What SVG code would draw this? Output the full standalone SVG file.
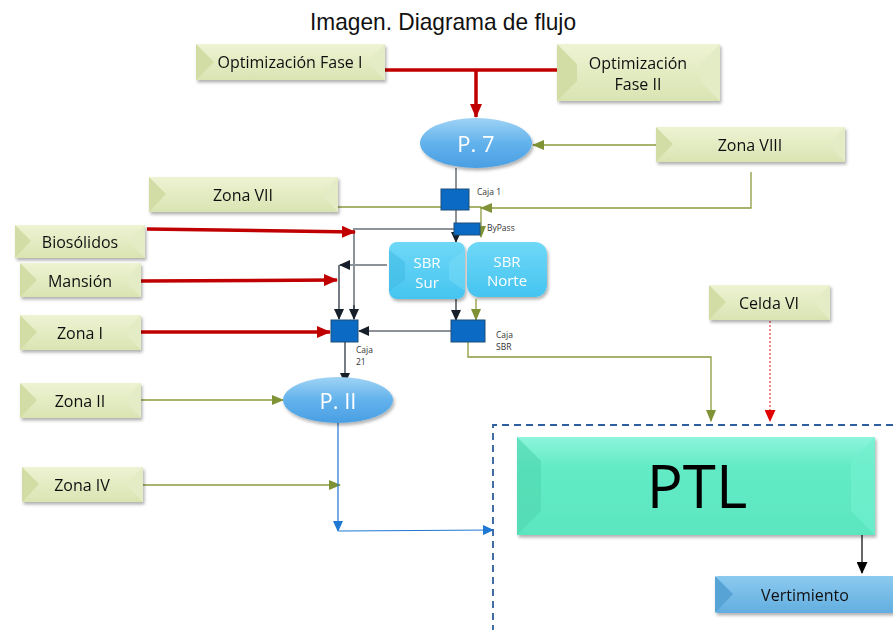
<svg xmlns="http://www.w3.org/2000/svg" width="893" height="630" viewBox="0 0 893 630">
<defs>
<style>
.lbl{font-family:"Open Sans","Noto Sans","Liberation Sans",sans-serif;font-size:16px;fill:#111;text-anchor:middle;dominant-baseline:central}
.wlbl{font-family:"Open Sans","Noto Sans","Liberation Sans",sans-serif;fill:#fff;text-anchor:middle;dominant-baseline:central}
.small{font-family:"Open Sans","Noto Sans","Liberation Sans",sans-serif;font-size:8.5px;fill:#333}
.gface{fill:url(#gGreen)}
.gl{fill:#d2dda6}.gt{fill:#f3f7e2}.gr{fill:#e4ecc6}.gb{fill:#c9d49c}
.red{stroke:#c00000;stroke-width:3.5;fill:none}
.olive{stroke:#8a9b3c;stroke-width:1.3;fill:none}
.gray{stroke:#8c9399;stroke-width:2;fill:none}
.dark{stroke:#1b2631;stroke-width:1.2;fill:none}
.blue{stroke:#1f78d1;stroke-width:1.2;fill:none}
.caja{fill:#0b6bc4;stroke:#1f4e79;stroke-width:1}
</style>
<linearGradient id="gGreen" x1="0" y1="0" x2="0" y2="1"><stop offset="0" stop-color="#eef3d3"/><stop offset="1" stop-color="#d9e4b2"/></linearGradient>
<linearGradient id="gEll" x1="0" y1="0" x2="0" y2="1"><stop offset="0" stop-color="#9fd3f5"/><stop offset="0.5" stop-color="#62b2ec"/><stop offset="1" stop-color="#4a9fe3"/></linearGradient>
<linearGradient id="gSbr" x1="0" y1="0" x2="0" y2="1"><stop offset="0" stop-color="#6fd8f7"/><stop offset="1" stop-color="#45c4f0"/></linearGradient>
<linearGradient id="gPtl" x1="0" y1="0" x2="0" y2="1"><stop offset="0" stop-color="#8ef5dc"/><stop offset="0.3" stop-color="#63ebc6"/><stop offset="1" stop-color="#5be6c0"/></linearGradient>
<linearGradient id="gVert" x1="0" y1="0" x2="0" y2="1"><stop offset="0" stop-color="#8ccaef"/><stop offset="1" stop-color="#62aee0"/></linearGradient>
<filter id="sh" x="-10%" y="-20%" width="130%" height="150%"><feDropShadow dx="1.5" dy="2.5" stdDeviation="1.5" flood-color="#000" flood-opacity="0.3"/></filter>
<marker id="mRed" markerUnits="userSpaceOnUse" markerWidth="14" markerHeight="12" refX="13" refY="6" orient="auto"><path d="M0,0 L14,6 L0,12 Z" fill="#c00000"/></marker>
<marker id="mOlive" markerUnits="userSpaceOnUse" markerWidth="12" markerHeight="10" refX="11" refY="5" orient="auto"><path d="M0,0 L12,5 L0,10 Z" fill="#7f9235"/></marker>
<marker id="mDark" markerUnits="userSpaceOnUse" markerWidth="11" markerHeight="10" refX="10" refY="5" orient="auto"><path d="M0,0 L11,5 L0,10 Z" fill="#17202a"/></marker>
<marker id="mBlue" markerUnits="userSpaceOnUse" markerWidth="11" markerHeight="10" refX="10" refY="5" orient="auto"><path d="M0,0 L11,5 L0,10 Z" fill="#1f78d1"/></marker>
<marker id="mBlack" markerUnits="userSpaceOnUse" markerWidth="12" markerHeight="11" refX="11" refY="5.5" orient="auto"><path d="M0,0 L12,5.5 L0,11 Z" fill="#000"/></marker>
<marker id="mRedS" markerUnits="userSpaceOnUse" markerWidth="12" markerHeight="11" refX="11" refY="5.5" orient="auto"><path d="M0,0 L12,5.5 L0,11 Z" fill="#e00000"/></marker>
</defs>
<rect width="893" height="630" fill="#fff"/>
<text x="443" y="30" font-family="Liberation Sans Narrow,Liberation Sans,sans-serif" font-size="24" fill="#111" text-anchor="middle" textLength="266" lengthAdjust="spacingAndGlyphs">Imagen. Diagrama de flujo</text>

<g id="connectors">
<path class="red" d="M385,70 H557"/>
<path class="red" d="M476,70 V117" marker-end="url(#mRed)"/>
<path class="olive" d="M656,145 H533" marker-end="url(#mOlive)"/>
<path class="olive" d="M751,172 V208 H481" marker-end="url(#mOlive)"/>
<path class="olive" d="M338,207 H481 V237" marker-end="url(#mOlive)"/>
<path class="gray" d="M456,168 V189"/>
<path class="gray" d="M456,210 V223"/>
<path class="dark" d="M456,235 V242" marker-end="url(#mDark)"/>
<path class="gray" d="M455,229 H354 V319"/>
<path class="dark" d="M354,305 V319" marker-end="url(#mDark)"/>
<path class="gray" d="M387,265 H341"/>
<path class="dark" d="M350,265 H340" marker-end="url(#mDark)"/>
<path class="dark" d="M339,265 V319" marker-end="url(#mDark)"/>
<path class="red" d="M147,229 L355,232" marker-end="url(#mRed)"/>
<path class="red" d="M141,281 L337,280" marker-end="url(#mRed)"/>
<path class="red" d="M141,332 H330" marker-end="url(#mRed)"/>
<path class="dark" d="M456,299 V320" marker-end="url(#mDark)"/>
<path class="olive" d="M476,299 V320" marker-end="url(#mOlive)"/>
<path class="dark" d="M451,331 H359" marker-end="url(#mDark)"/>
<path class="dark" d="M345,342 V383" marker-end="url(#mDark)"/>
<path class="olive" d="M468,342 V357 H711 V421" marker-end="url(#mOlive)"/>
<path d="M770,321 V421" stroke="#e33" stroke-width="1.2" stroke-dasharray="2,2" fill="none" marker-end="url(#mRedS)"/>
<path class="olive" d="M141,400 H283" marker-end="url(#mOlive)"/>
<path class="olive" d="M143,485 H340" marker-end="url(#mOlive)"/>
<path class="blue" d="M338,423 V531" marker-end="url(#mBlue)"/>
<path class="blue" d="M339,531 L493,530" marker-end="url(#mBlue)"/>
<path d="M862,535 V573" stroke="#000" stroke-width="1.2" fill="none" marker-end="url(#mBlack)"/>
<path d="M893,425 H493 V630" stroke="#2e5f9e" stroke-width="1.8" stroke-dasharray="7,5" fill="none"/>
</g>

<g id="opt1" filter="url(#sh)">
<rect x="196" y="44" width="189" height="36" class="gface"/>
<polygon class="gl" points="196,44 214,62 196,80"/><polygon class="gr" points="385,44 367,62 385,80"/>
<text class="lbl" x="290" y="62">Optimización Fase I</text>
</g>
<g id="opt2" filter="url(#sh)">
<rect x="557" y="44" width="163" height="57" class="gface"/>
<polygon class="gl" points="557,44 577,64 577,81 557,101"/><polygon class="gr" points="720,44 700,64 700,81 720,101"/>
<text class="lbl" x="638" y="63">Optimización</text><text class="lbl" x="638" y="84">Fase II</text>
</g>
<g id="p7" filter="url(#sh)">
<ellipse cx="476" cy="143" rx="56" ry="25" fill="url(#gEll)"/>
<text class="wlbl" x="476" y="143" font-size="22">P. 7</text>
</g>
<g id="zona8" filter="url(#sh)">
<rect x="656" y="127" width="189" height="35" class="gface"/>
<polygon class="gl" points="656,127 673,144 656,162"/><polygon class="gr" points="845,127 828,144 845,162"/>
<text class="lbl" x="750" y="145">Zona VIII</text>
</g>
<g id="zona7" filter="url(#sh)">
<rect x="149" y="177" width="189" height="35" class="gface"/>
<polygon class="gl" points="149,177 166,194 149,212"/><polygon class="gr" points="338,177 321,194 338,212"/>
<text class="lbl" x="243" y="195">Zona VII</text>
</g>
<g id="caja1">
<rect x="441" y="189" width="28" height="21" class="caja"/>
<text class="small" x="477" y="195">Caja 1</text>
</g>
<g id="bypass">
<rect x="454" y="223" width="26" height="12" class="caja"/>
<text class="small" x="487" y="231">ByPass</text>
</g>
<g id="biosolidos" filter="url(#sh)">
<rect x="15" y="225" width="130" height="33" class="gface"/>
<polygon class="gl" points="15,225 31,241 15,258"/><polygon class="gr" points="145,225 129,241 145,258"/>
<text class="lbl" x="80" y="242">Biosólidos</text>
</g>
<g id="mansion" filter="url(#sh)">
<rect x="20" y="263" width="121" height="34" class="gface"/>
<polygon class="gl" points="20,263 37,280 20,297"/><polygon class="gr" points="141,263 124,280 141,297"/>
<text class="lbl" x="80" y="281">Mansión</text>
</g>
<g id="zona1" filter="url(#sh)">
<rect x="20" y="315" width="121" height="35" class="gface"/>
<polygon class="gl" points="20,315 37,332 20,350"/><polygon class="gr" points="141,315 124,332 141,350"/>
<text class="lbl" x="80" y="333">Zona I</text>
</g>
<g id="sbrsur" filter="url(#sh)">
<rect x="389" y="242" width="76" height="57" rx="8" fill="url(#gSbr)"/>
<polygon points="389,250 405,262 405,280 389,291" fill="#3db7e2" opacity="0.5"/>
<polygon points="465,250 449,262 449,280 465,291" fill="#7adcf8" opacity="0.5"/>
<text class="wlbl" x="427" y="262" font-size="15">SBR</text><text class="wlbl" x="427" y="282" font-size="15">Sur</text>
</g>
<g id="sbrnorte" filter="url(#sh)">
<rect x="467" y="242" width="80" height="55" rx="12" fill="url(#gSbr)"/>
<text class="wlbl" x="507" y="261" font-size="15">SBR</text><text class="wlbl" x="507" y="280" font-size="15">Norte</text>
</g>
<g id="caja21">
<rect x="331" y="320" width="27" height="22" class="caja"/>
<text class="small" x="356" y="353">Caja</text><text class="small" x="356" y="365">21</text>
</g>
<g id="cajasbr">
<rect x="451" y="320" width="34" height="22" class="caja"/>
<text class="small" x="496" y="338">Caja</text><text class="small" x="496" y="350">SBR</text>
</g>
<g id="celda6" filter="url(#sh)">
<rect x="709" y="285" width="121" height="35" class="gface"/>
<polygon class="gl" points="709,285 726,302 709,320"/><polygon class="gr" points="830,285 813,302 830,320"/>
<text class="lbl" x="769" y="303">Celda VI</text>
</g>
<g id="zona2" filter="url(#sh)">
<rect x="20" y="383" width="121" height="35" class="gface"/>
<polygon class="gl" points="20,383 37,400 20,418"/><polygon class="gr" points="141,383 124,400 141,418"/>
<text class="lbl" x="80" y="401">Zona II</text>
</g>
<g id="p2" filter="url(#sh)">
<ellipse cx="338" cy="400" rx="55" ry="23" fill="url(#gEll)"/>
<text class="wlbl" x="338" y="400" font-size="22">P. II</text>
</g>
<g id="zona4" filter="url(#sh)">
<rect x="22" y="467" width="121" height="35" class="gface"/>
<polygon class="gl" points="22,467 39,484 22,502"/><polygon class="gr" points="143,467 126,484 143,502"/>
<text class="lbl" x="82" y="485">Zona IV</text>
</g>
<g id="ptl" filter="url(#sh)">
<rect x="517" y="437" width="358" height="98" fill="url(#gPtl)"/>
<polygon points="517,437 541,461 541,511 517,535" fill="#52d9b2" opacity="0.7"/>
<polygon points="875,437 851,461 851,511 875,535" fill="#72efcf" opacity="0.7"/>
<text x="697" y="485" font-family="Open Sans,Noto Sans,Liberation Sans,sans-serif" font-size="60" fill="#000" text-anchor="middle" dominant-baseline="central">PTL</text>
</g>
<g id="vertimiento" filter="url(#sh)">
<rect x="715" y="576" width="190" height="37" rx="3" fill="url(#gVert)"/>
<polygon points="715,576 733,594 715,613" fill="#58a3d6"/>
<text class="lbl" x="805" y="595">Vertimiento</text>
</g>
</svg>
